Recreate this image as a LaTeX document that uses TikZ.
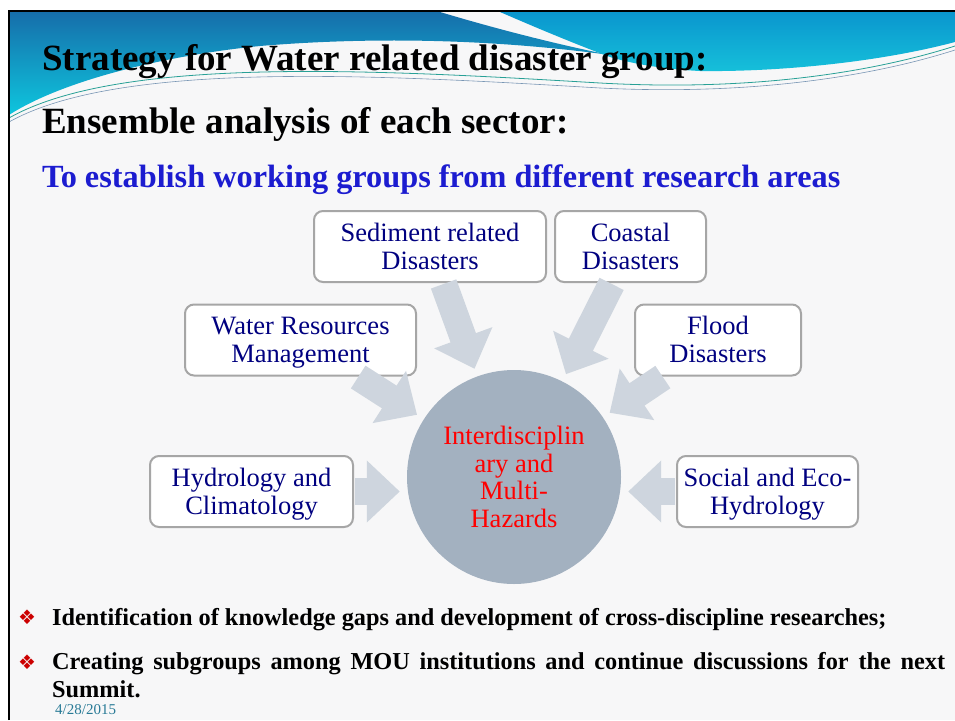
\documentclass[tikz,border=0pt]{standalone}
\usepackage{fontspec}
\setmainfont{Liberation Serif}
\newfontfamily\dingfont{DejaVu Sans}
\usetikzlibrary{arrows.meta, positioning, calc}

\definecolor{slidebg}{RGB}{247,247,248}
\definecolor{wavetop}{RGB}{22,110,170}
\definecolor{wavelow}{RGB}{14,198,222}
\definecolor{waveright}{RGB}{10,150,206}
\definecolor{waverightlow}{RGB}{22,192,218}
\definecolor{linegreen}{RGB}{40,160,150}
\definecolor{lineblue}{RGB}{120,150,180}
\definecolor{titleblue}{RGB}{28,28,208}
\definecolor{boxtext}{RGB}{0,0,128}
\definecolor{boxline}{RGB}{166,166,166}
\definecolor{hubfill}{RGB}{163,177,192}
\definecolor{flowgray}{RGB}{206,213,222}
\definecolor{datecol}{RGB}{40,122,150}
\definecolor{bulletred}{RGB}{204,0,0}

\begin{document}
\begin{tikzpicture}[
    x=1pt, y=-1pt,
    >=Stealth,
    sector/.style={rectangle, draw=boxline, line width=2pt, fill=white,
        rounded corners=9pt, text=boxtext, align=center, inner sep=2pt,
        font=\fontsize{26.5}{28}\selectfont, minimum height=71pt,
        text height=51.5pt, text depth=6pt},
    hubnode/.style={circle, fill=hubfill, minimum size=214pt, inner sep=0pt,
        text=red, align=center, font=\fontsize{26.5}{27.5}\selectfont},
    flow/.style={draw=flowgray, line width=27pt,
        -{Triangle[length=33pt, width=60pt]}, shorten >=8pt, shorten <=1pt},
    heading/.style={anchor=base west, inner sep=0pt,
        font=\fontsize{37}{37}\selectfont\bfseries},
    point/.style={anchor=base west, inner sep=0pt,
        font=\fontsize{24.3}{28}\selectfont\bfseries},
    bullet/.style={inner sep=0pt, text=bulletred,
        font=\dingfont\fontsize{20}{20}\selectfont}
]

    \useasboundingbox (0,0) rectangle (955,720);

    % Slide ------------------------------------------------------

    \fill[white] (0,0) rectangle (955,720);
    \fill[slidebg] (9,12) rectangle (955,720);

    % waves
    \shade[top color=wavetop, bottom color=wavelow]
        (9,12) -- (440,12) .. controls (500,30) and (560,45) .. (610,55)
        .. controls (500,40) and (380,36) .. (260,46)
        .. controls (160,56) and (60,82) .. (9,115) -- cycle;
    \shade[top color=waveright, bottom color=waverightlow]
        (500,12) -- (955,12) -- (955,42)
        .. controls (880,62) and (780,72) .. (700,71)
        .. controls (660,69) and (630,63) .. (610,57)
        .. controls (570,42) and (530,25) .. (500,12) -- cycle;
    \draw[linegreen, line width=0.8pt] (9,118) .. controls (120,55) and (380,70) .. (600,83)
        .. controls (760,92) and (880,70) .. (955,46);
    \draw[lineblue, line width=0.6pt] (9,122) .. controls (120,60) and (380,75) .. (600,88)
        .. controls (760,96) and (880,74) .. (955,50);

    % frame
    \draw[line width=2.5pt] (9,720) -- (9,11) -- (955,11);

    % Headings ---------------------------------------------------

    \node[heading] (title) at (42,70) {Strategy for Water related disaster group:};
    \node[heading] (subtitle) at (42,133) {Ensemble analysis of each sector:};
    \node[heading, text=titleblue, font=\fontsize{32.3}{32}\selectfont\bfseries]
        (aim) at (42,187) {To establish working groups from different research areas};

    % Nodes ------------------------------------------------------

    \node[hubnode] (hub) at (514,477) {Interdisciplin\\ary and\\Multi-\\Hazards};

    \node[sector, minimum width=232pt] (sed) at (430,246.5) {Sediment related\\Disasters};
    \node[sector, minimum width=151pt] (coast) at (630.5,246.5) {Coastal\\Disasters};
    \node[sector, minimum width=231pt] (water) at (300.5,340) {Water Resources\\Management};
    \node[sector, minimum width=166pt] (flood) at (718,340) {Flood\\Disasters};
    \node[sector, minimum width=203pt] (hydro) at (251.5,491.5) {Hydrology and\\Climatology};
    \node[sector, minimum width=181pt] (social) at (767.5,491.5) {Social and Eco-\\Hydrology};

    % Arrows -----------------------------------------------------

    \draw[flow] (sed) -- (hub);
    \draw[flow] (coast) -- (hub);
    \draw[flow] (water) -- (hub);
    \draw[flow] (flood) -- (hub);
    \draw[flow, shorten >=7pt] (hydro) -- (hydro -| hub.west);
    \draw[flow, shorten >=7pt] (social) -- (social -| hub.east);

    % Bullets ----------------------------------------------------

    \node[bullet] (b1) at (27,617) {❖};
    \node[point] (pt1) at (52,625)
        {Identification of knowledge gaps and development of cross-discipline researches;};
    \node[bullet] (b2) at (27,662) {❖};
    \node[point] (pt2) at (52,669)
        {\makebox[893pt][s]{Creating subgroups among MOU institutions and continue discussions for the next}};
    \node[point] (pt2b) at (52,697) {Summit.};

    % date
    \node[anchor=base west, inner sep=0pt, text=datecol, font=\fontsize{15}{15}\selectfont]
        (date) at (55,714) {4/28/2015};

\end{tikzpicture}
\end{document}
